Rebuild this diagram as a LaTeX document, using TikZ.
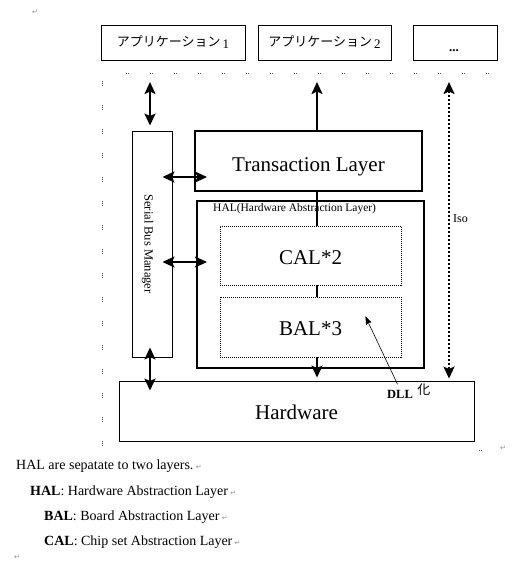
\documentclass[tikz,border=0pt]{standalone}
\usepackage{fontspec}
\setmainfont{Liberation Serif}
\newfontfamily\jpfont{Noto Sans CJK JP}
\newfontfamily\symfont{DejaVu Sans}
\usetikzlibrary{arrows.meta, calc}

\newcommand{\retmark}{\,{\color{black!45}\symfont\fontsize{7}{7}\selectfont ↵}}
\newcommand{\appname}[1]{{\jpfont アプリケーション}\,\raisebox{-2pt}{#1}}

\tikzset{
  thinbox/.style={draw, line width=0.9pt},
  thickbox/.style={draw, line width=2pt},
  dotbox/.style={draw, line width=0.8pt, dash pattern=on 1pt off 1pt, minimum width=181pt, minimum height=59pt},
  bigtext/.style={font=\fontsize{21}{24}\selectfont, text height=17pt, text depth=0pt},
  apptext/.style={font=\fontsize{13}{15}\selectfont},
  smalltext/.style={font=\fontsize{11.5}{13}\selectfont},
  notetext/.style={font=\fontsize{14}{16}\selectfont, anchor=base west},
  retsign/.style={font=\symfont\fontsize{7}{7}\selectfont, text=black!45},
  shaft/.style={line width=2pt},
  bigtip/.tip={Stealth[length=12pt,width=11pt,inset=2.5pt]},
  smalltip/.tip={Stealth[length=8pt,width=6pt,inset=1pt]},
  gridmark/.style={black!70, line width=0.8pt, dash pattern=on 1pt off 1pt},
}

\begin{document}
\begin{tikzpicture}[x=1pt, y=-1pt, every node/.style={inner sep=0pt}]
  \useasboundingbox (0,0) rectangle (520,565);

  \def\xSBM{150};
  \def\xMID{317};
  \def\xISO{449};
  \def\yTOP{82};

  % applications
  \node[thinbox, apptext, minimum width=144pt, minimum height=35pt] (app1) at (173,42.5) {\appname{1}};
  \node[thinbox, apptext, minimum width=133pt, minimum height=35pt] (app2) at (324.5,42.5) {\appname{2}};
  \node[thinbox, minimum width=84pt, minimum height=35pt] (app3) at (455,42.5) {};
  \node[font=\bfseries\fontsize{13}{15}\selectfont] (more) at ([xshift=-1pt, yshift=-8pt]app3.center) {...};

  % grid marks
  \foreach \i in {0,...,15} {
    \draw[gridmark] (125.5+24*\i,73) -- ++(3,0);
    \draw[gridmark] (102.5,81+24*\i) -- ++(0,5);
  }
  \draw[gridmark] (478.5,450) -- ++(3,0);

  % layers
  \node[thickbox, bigtext, minimum width=227pt, minimum height=60pt, text height=21pt] (trans) at (308.5,161) {Transaction Layer};
  \node[thickbox, minimum width=227pt, minimum height=167pt] (hal) at (310.5,284.5) {};
  \node[smalltext, anchor=base west] (hallabel) at ([xshift=17pt, yshift=-11.3pt]hal.north west) {HAL(Hardware Abstraction Layer)};
  \node[dotbox, bigtext] (cal) at (310.5,255.5) {CAL*2};
  \node[dotbox, bigtext, minimum height=60pt] (bal) at (310.5,327) {BAL*3};
  \node[thinbox, minimum width=40pt, minimum height=226pt] (sbm) at (152,244) {};
  \node[rotate=-90, font=\fontsize{12.5}{14}\selectfont] (sbmlabel) at ([xshift=-4.5pt]sbm.center) {Serial Bus Manager};
  \node[thinbox, bigtext, minimum width=355pt, minimum height=60pt] (hw) at (296.5,411) {Hardware};

  % connectors
  \coordinate (top1) at (\xSBM,\yTOP);
  \coordinate (top2) at (\xMID,\yTOP);
  \coordinate (top3) at (\xISO,\yTOP);

  \begin{scope}[shaft]
    \draw[bigtip-bigtip, shorten >=5pt] (top1) -- (top1 |- sbm.north);
    \draw[-bigtip] (top2 |- trans.north) -- (top2);
    \draw[bigtip-bigtip, dotted, shorten >=2pt] (top3) -- (top3 |- hw.north);
    \draw[bigtip-bigtip, shorten <=-10pt, shorten >=-13pt] (sbm.east |- 0,177) -- (trans.west |- 0,177);
    \draw[bigtip-bigtip, shorten <=-10pt, shorten >=-11pt] (sbm.east |- 0,262) -- (hal.west |- 0,262);
    \draw[bigtip-bigtip, shorten <=-10pt, shorten >=-10pt] (sbm.south -| top1) -- (hw.north -| top1);
    \draw (trans.south -| top2) -- (cal.north -| top2);
    \draw (cal.south -| top2) -- (bal.north -| top2);
    \draw[-bigtip, shorten >=3pt] (bal.south -| top2) -- (hw.north -| top2);
  \end{scope}

  \node[font=\fontsize{12}{14}\selectfont, anchor=west] (iso) at (453,219) {Iso};

  % DLL
  \node[font=\bfseries\fontsize{12.5}{14}\selectfont, anchor=base west] (dll) at (387,398) {DLL};
  \node[font=\jpfont\fontsize{13}{15}\selectfont, anchor=base west] (ka) at ([xshift=4pt, yshift=4pt]dll.base east) {化};
  \coordinate (dlltip) at ($(bal.south east)+(-36,-41)$);
  \draw[line width=0.6pt, -smalltip, shorten <=6pt] (dll.north) -- (dlltip);

  % notes
  \node[notetext] (note) at (16,469) {HAL are sepatate to two layers.\retmark};
  \node[notetext] (defhal) at (30,495) {\textbf{HAL}: Hardware Abstraction Layer\retmark};
  \node[notetext] (defbal) at (44,520) {\textbf{BAL}: Board Abstraction Layer\retmark};
  \node[notetext] (defcal) at (44,545) {\textbf{CAL}: Chip set Abstraction Layer\retmark};
  \node[retsign] (ret1) at (35,12) {↵};
  \node[retsign] (ret2) at (17,557) {↵};
  \node[retsign] (ret3) at (503,448) {↵};
\end{tikzpicture}
\end{document}
